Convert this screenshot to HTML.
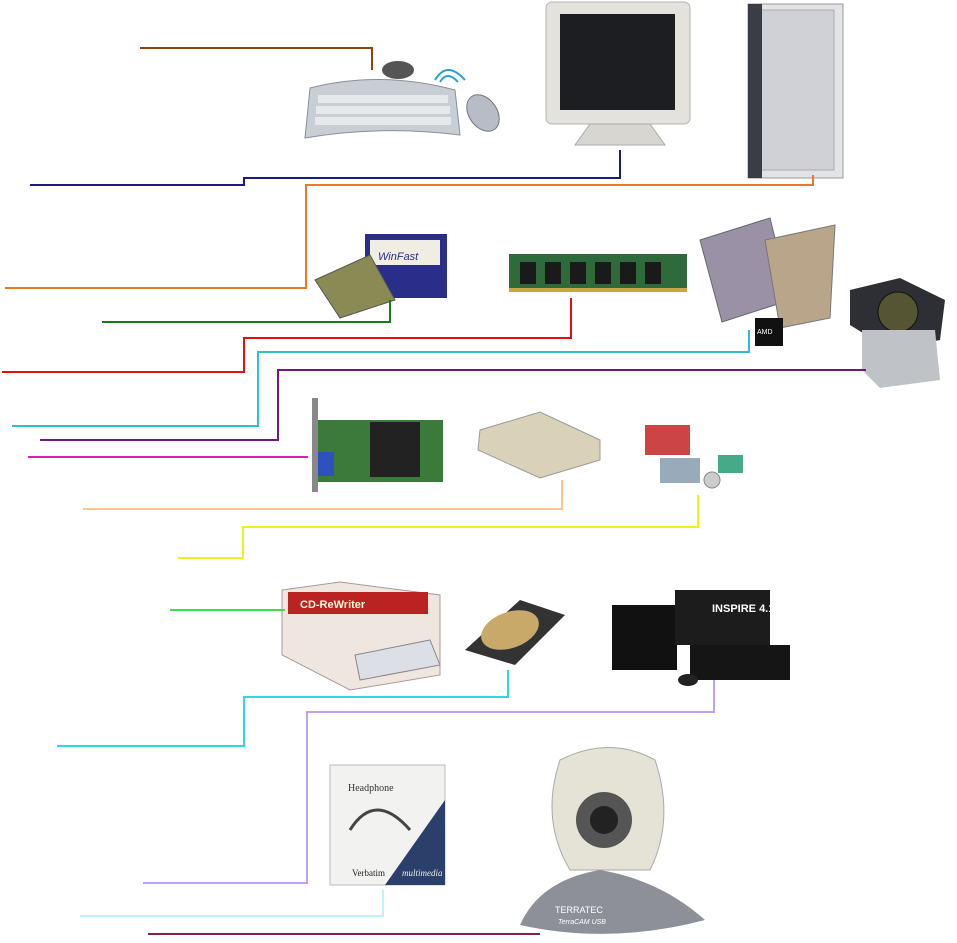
<!DOCTYPE html>
<html><head><meta charset="utf-8"><style>
html,body{margin:0;padding:0;background:#fff;width:957px;height:943px;overflow:hidden;font-family:"Liberation Sans",sans-serif}
svg{position:absolute;left:0;top:0}
</style></head><body>
<svg width="957" height="943" viewBox="0 0 957 943" xmlns="http://www.w3.org/2000/svg">
<!-- keyboard -->
<path d="M310 88 Q380 70 455 90 L460 135 Q380 125 305 138 Z" fill="#c9cdd4" stroke="#8a8f99"/>
<g fill="#e6e8ec"><rect x="318" y="95" width="130" height="8"/><rect x="316" y="106" width="134" height="8"/><rect x="315" y="117" width="136" height="8"/></g>
<ellipse cx="398" cy="70" rx="16" ry="9" fill="#555"/>
<ellipse cx="483" cy="113" rx="14" ry="20" fill="#b8bcc6" stroke="#777" transform="rotate(-35 483 113)"/>
<path d="M435 80 Q447 60 465 80 M440 82 Q447 70 458 82" stroke="#2a9fd6" stroke-width="2" fill="none"/>
<!-- monitor -->
<rect x="546" y="2" width="144" height="122" rx="6" fill="#e4e2dc" stroke="#b5b3ad"/>
<rect x="560" y="14" width="115" height="96" fill="#1c1e22"/>
<path d="M590 124 L650 124 L665 145 L575 145 Z" fill="#d8d6d0" stroke="#aaa"/>
<!-- tower -->
<rect x="748" y="4" width="95" height="174" fill="#e2e3e6" stroke="#999"/>
<rect x="760" y="10" width="74" height="160" fill="#cfd1d6" stroke="#aaa"/>
<rect x="748" y="4" width="14" height="174" fill="#3a3d44"/>
<!-- motherboard -->
<rect x="365" y="234" width="82" height="64" fill="#2a2d8a"/>
<rect x="370" y="240" width="70" height="25" fill="#f0ede2"/>
<text x="378" y="260" font-size="11" font-style="italic" fill="#2a2d8a">WinFast</text>
<path d="M315 280 L370 255 L395 300 L340 318 Z" fill="#8a8a55" stroke="#555"/>
<!-- RAM -->
<rect x="509" y="254" width="178" height="38" fill="#2e6a3a"/>
<g fill="#1a1a1a"><rect x="520" y="262" width="16" height="22"/><rect x="545" y="262" width="16" height="22"/><rect x="570" y="262" width="16" height="22"/><rect x="595" y="262" width="16" height="22"/><rect x="620" y="262" width="16" height="22"/><rect x="645" y="262" width="16" height="22"/></g>
<rect x="509" y="288" width="178" height="4" fill="#c8a640"/>
<!-- CPU -->
<path d="M700 240 L770 218 L790 300 L722 322 Z" fill="#9a91a6" stroke="#666"/>
<path d="M765 240 L835 225 L830 318 L780 328 Z" fill="#b9a58a" stroke="#777"/>
<rect x="755" y="318" width="28" height="28" fill="#111"/>
<text x="757" y="334" font-size="7" fill="#fff">AMD</text>
<!-- cooler -->
<path d="M850 290 L900 278 L945 300 L940 340 L890 350 L850 325 Z" fill="#2d2f35"/>
<circle cx="898" cy="312" r="20" fill="#553" stroke="#111"/>
<path d="M862 330 L935 330 L940 380 L880 388 L862 370 Z" fill="#bfc3c7"/>
<!-- GPU -->
<rect x="318" y="420" width="125" height="62" fill="#3c7a3c"/>
<rect x="370" y="422" width="50" height="55" fill="#222"/>
<rect x="312" y="398" width="6" height="94" fill="#888"/>
<rect x="318" y="452" width="16" height="24" fill="#3050c0"/>
<!-- floppy -->
<path d="M480 430 L540 412 L600 440 L600 460 L540 478 L478 450 Z" fill="#d9d2b8" stroke="#999"/>
<!-- kit -->
<rect x="645" y="425" width="45" height="30" fill="#c44"/><rect x="660" y="458" width="40" height="25" fill="#9ab"/>
<circle cx="712" cy="480" r="8" fill="#ccc" stroke="#888"/><rect x="718" y="455" width="25" height="18" fill="#4a8"/>
<!-- CD box -->
<path d="M282 590 L340 582 L440 595 L440 675 L350 690 L282 655 Z" fill="#efe6e0" stroke="#a99"/>
<rect x="288" y="592" width="140" height="22" fill="#b22"/>
<text x="300" y="608" font-size="11" font-weight="bold" fill="#ffd">CD-ReWriter</text>
<path d="M355 655 L430 640 L440 665 L360 680 Z" fill="#dcdfe6" stroke="#888"/>
<!-- HDD -->
<path d="M465 650 L520 600 L565 615 L515 665 Z" fill="#333"/>
<ellipse cx="510" cy="630" rx="30" ry="18" fill="#c9a96a" transform="rotate(-20 510 630)"/>
<!-- speakers -->
<rect x="612" y="605" width="65" height="65" fill="#111"/>
<rect x="675" y="590" width="95" height="55" fill="#1c1c1c"/>
<text x="712" y="612" font-size="11" font-weight="bold" fill="#fff">INSPIRE 4.1</text>
<rect x="690" y="645" width="100" height="35" fill="#151515"/>
<ellipse cx="688" cy="680" rx="10" ry="6" fill="#222"/>
<!-- headphone box -->
<rect x="330" y="765" width="115" height="120" fill="#f2f2f0" stroke="#bbb"/>
<path d="M445 800 L445 885 L385 885 Z" fill="#2a3f6a"/>
<text x="348" y="791" font-size="10" font-family="Liberation Serif" fill="#333">Headphone</text>
<text x="352" y="876" font-size="9" font-family="Liberation Serif" fill="#222">Verbatim</text>
<text x="402" y="876" font-size="9" font-style="italic" font-family="Liberation Serif" fill="#eee">multimedia</text>
<path d="M350 830 Q375 790 410 830" stroke="#444" stroke-width="3" fill="none"/>
<!-- webcam -->
<path d="M560 760 Q610 735 655 760 Q675 820 650 870 L570 870 Q540 820 560 760 Z" fill="#e5e2d6" stroke="#aaa"/>
<circle cx="604" cy="820" r="28" fill="#555"/><circle cx="604" cy="820" r="14" fill="#222"/>
<path d="M520 925 Q540 880 600 870 Q660 880 705 920 Q610 945 520 925 Z" fill="#8e9099"/>
<text x="555" y="913" font-size="9" fill="#fff">TERRATEC</text>
<text x="558" y="924" font-size="7" font-style="italic" fill="#fff">TerraCAM USB</text>
<!-- lines -->
<g fill="none" stroke-width="2">
<polyline points="140,48 372,48 372,70" stroke="#8b4513"/>
<polyline points="30,185 244,185 244,178 620,178 620,150" stroke="#1a1a80"/>
<polyline points="5,288 306,288 306,185 813,185 813,175" stroke="#f07820"/>
<polyline points="102,322 390,322 390,300" stroke="#1a7a1a"/>
<polyline points="2,372 244,372 244,338 571,338 571,298" stroke="#e01010"/>
<polyline points="12,426 258,426 258,352 749,352 749,330" stroke="#30c0c8"/>
<polyline points="40,440 278,440 278,370 866,370" stroke="#701a80"/>
<polyline points="28,457 308,457" stroke="#d020c0"/>
<polyline points="83,509 562,509 562,480" stroke="#f8c890"/>
<polyline points="178,558 243,558 243,527 698,527 698,495" stroke="#f0f020"/>
<polyline points="170,610 285,610" stroke="#40e040"/>
<polyline points="57,746 244,746 244,697 508,697 508,670" stroke="#30d8e0"/>
<polyline points="143,883 307,883 307,712 714,712 714,680" stroke="#c0a0f0"/>
<polyline points="80,916 383,916 383,890" stroke="#c0f0f8"/>
<polyline points="148,934 540,934" stroke="#802050"/>
</g>
</svg>
</body></html>
